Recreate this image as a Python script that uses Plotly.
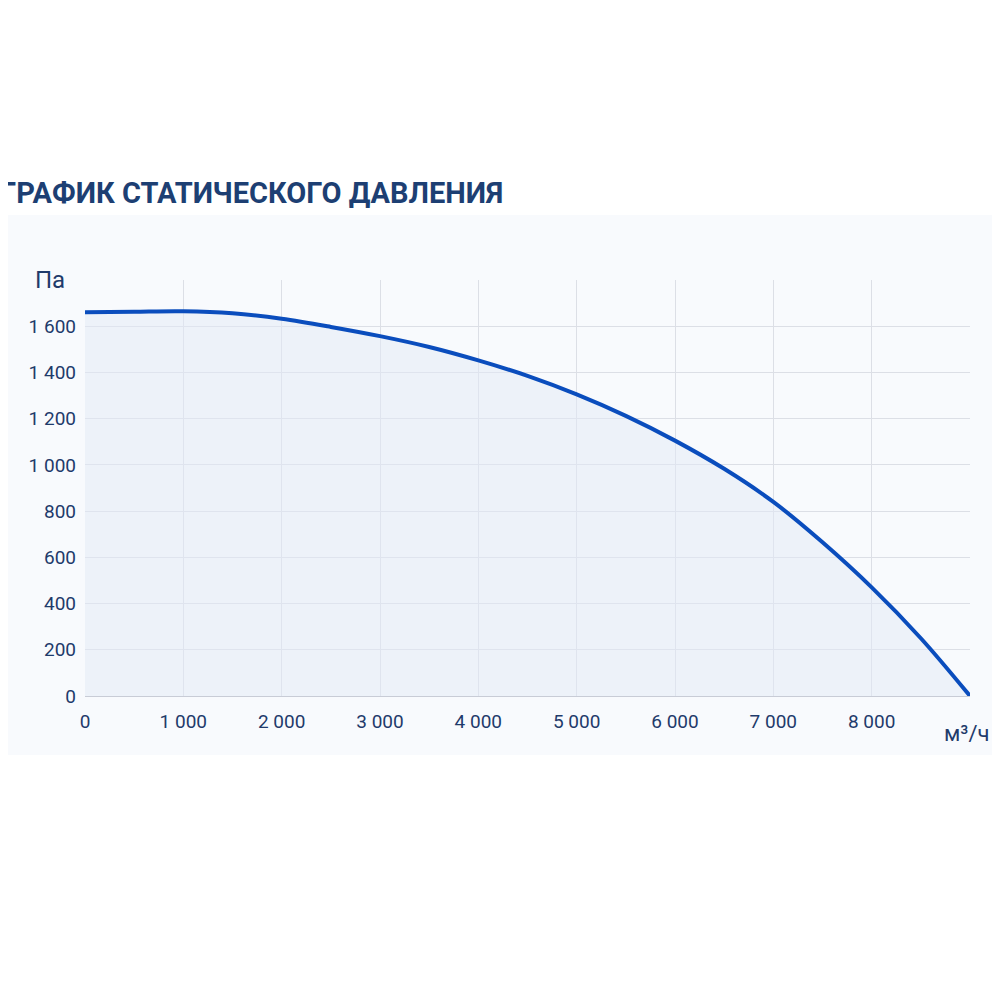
import plotly.graph_objects as go

flow = [0, 500, 1000, 1500, 2000, 2500, 3000, 3500, 4000, 4500, 5000, 5500, 6000, 6500, 7000, 7500, 8000, 8500, 9000]
pressure = [1660, 1663, 1665, 1656, 1632, 1597, 1557, 1510, 1452, 1385, 1305, 1212, 1105, 983, 840, 665, 470, 250, 0]

fig = go.Figure()
fig.add_trace(go.Scatter(x=flow, y=pressure, mode="lines", line=dict(color="#0a4dbd", width=4, shape="spline", smoothing=1.0),
                         fill="tozeroy", fillcolor="rgba(225,234,246,0.5)", hoverinfo="skip"))
fig.update_layout(
    width=1000, height=1000, paper_bgcolor="white", plot_bgcolor="rgba(0,0,0,0)",
    margin=dict(l=77, r=38, t=272, b=312), showlegend=False, separators=". ",
    font=dict(family="Roboto", color="#1f3b6b", size=19),
    shapes=[dict(type="rect", xref="paper", yref="paper", x0=-0.1, x1=1.1, y0=-0.142, y1=1.156,
                 fillcolor="#f8fafd", line_width=0, layer="below")],
    annotations=[
        dict(text="<b>ГРАФИК СТАТИЧЕСКОГО ДАВЛЕНИЯ</b>", xref="paper", yref="paper", x=-0.098, y=1.21,
             xanchor="left", yanchor="middle", showarrow=False, font=dict(size=29, color="#1d3f73")),
        dict(text="Па", xref="paper", yref="paper", x=-0.02, y=1.0, xanchor="right", yanchor="middle",
             showarrow=False, font=dict(size=24)),
        dict(text="м³/ч", xref="paper", yref="paper", x=1.024, y=-0.09, xanchor="right", yanchor="middle",
             showarrow=False, font=dict(size=22)),
    ],
)
fig.update_xaxes(range=[0, 9000], tickformat=",d", showgrid=True, gridcolor="#dcdfe6",
                 zeroline=False, showline=True, linecolor="#c8ccd6", ticks="", ticklabelstandoff=8,
                 tickvals=list(range(0, 9000, 1000)))
fig.update_yaxes(range=[0, 1800], tickformat=",d", showgrid=True, gridcolor="#dcdfe6",
                 zeroline=False, ticks="", ticklabelstandoff=8, tickvals=list(range(0, 1800, 200)))
fig.write_html("out.html")
